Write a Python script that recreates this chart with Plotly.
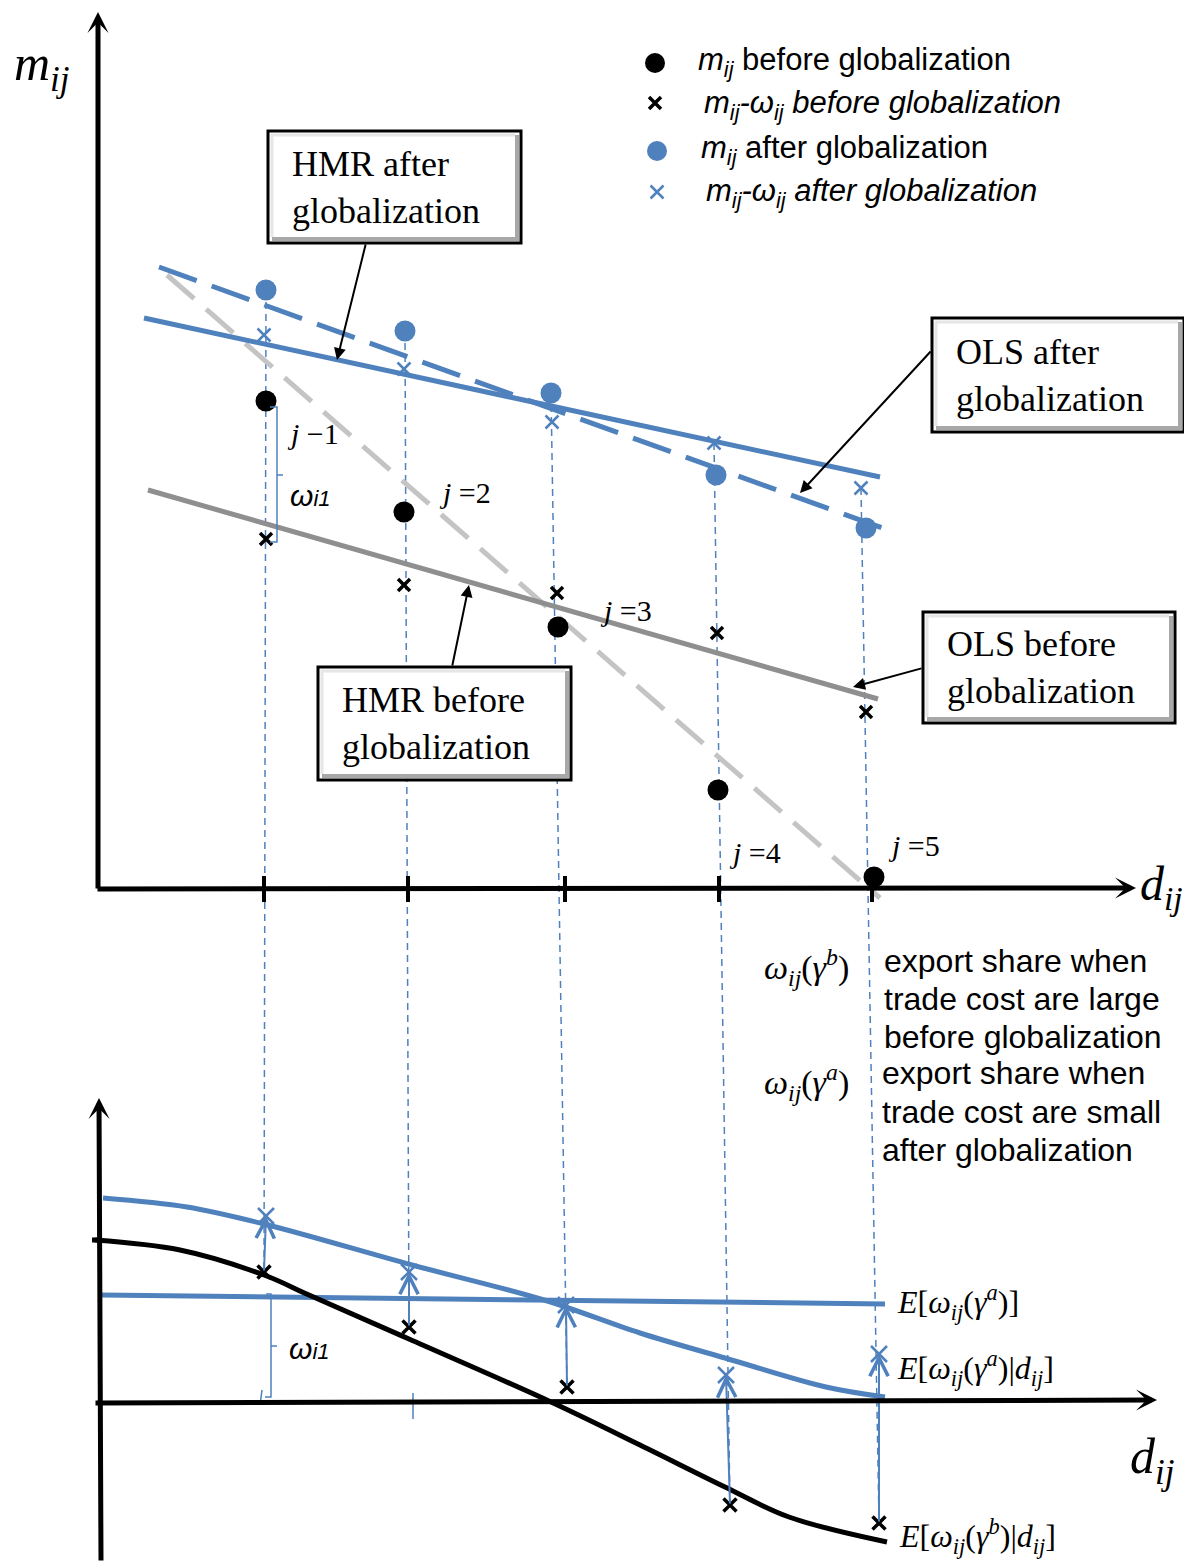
import plotly.graph_objects as go

BLUE = "#4f81bd"
GRAY = "#8f8f8f"
LIGHT_GRAY = "#c4c4c4"
SERIF = "Liberation Serif"
SANS = "Liberation Sans"

# ---- top panel: m_ij for importers j = 1..5 (screen units, y grows downward)
m_before_x = [266, 404, 558, 718, 874]
m_before_y = [401, 512, 627, 790, 877]
mw_before_x = [266, 404, 557, 717, 866]
mw_before_y = [539, 585, 593, 633, 712]
m_after_x = [266, 405, 551, 716, 866]
m_after_y = [290, 331, 393, 475, 528]
mw_after_x = [264, 404, 552, 714, 861]
mw_after_y = [335, 369, 422, 443, 488]

# fitted lines (end points)
hmr_after_x = [144, 880]
hmr_after_y = [318, 477]
ols_after_x = [159, 885]
ols_after_y = [267, 529]
before_solid_x = [148, 878]
before_solid_y = [490, 699]
before_dashed_x = [167, 880]
before_dashed_y = [275, 898]

d_ticks = [264, 408, 565, 719, 872]
j_labels = ["<i>j</i> −1", "<i>j</i> =2", "<i>j</i> =3", "<i>j</i> =4", "<i>j</i> =5"]

# ---- bottom panel: expected export shares
eb_x = [95, 180, 264, 309, 409, 551, 640, 725, 789, 887]
eb_y = [1240, 1250, 1275, 1295, 1339, 1402, 1445, 1487, 1517, 1542]
ea_cond_x = [103, 187, 264, 412, 544, 640, 725, 826, 885]
ea_cond_y = [1198, 1207, 1224, 1265, 1300, 1333, 1358, 1387, 1397]
ea_x = [101, 640, 885]
ea_y = [1295, 1301, 1304]
low_before_x = [264, 409, 567, 730, 879]
low_before_y = [1272, 1327, 1387, 1505, 1523]
low_after_x = [266, 409, 566, 726, 879]
low_after_y = [1216, 1272, 1305, 1375, 1354]

legend_labels = [
    "<i>m</i><sub><i>ij</i></sub> before globalization",
    "<i>m<sub>ij</sub>-ω<sub>ij</sub> before globalization</i>",
    "<i>m</i><sub><i>ij</i></sub> after globalization",
    "<i>m<sub>ij</sub>-ω<sub>ij</sub> after globalization</i>",
]

fig = go.Figure()


def line(x, y, color, width, dash=None, shape="linear"):
    fig.add_trace(go.Scatter(x=x, y=y, mode="lines", hoverinfo="skip",
                             line=dict(color=color, width=width, dash=dash, shape=shape)))


def markers(x, y, symbol, color, size, lw=0):
    fig.add_trace(go.Scatter(x=x, y=y, mode="markers", hoverinfo="skip",
                             marker=dict(symbol=symbol, color=color, size=size,
                                         line=dict(color=color, width=lw))))


def text(x, y, s, size, family=SANS, color="black", anchor="left"):
    fig.add_annotation(x=x, y=y, text=s, showarrow=False, xanchor=anchor, yanchor="middle",
                       align="left", font=dict(family=family, size=size, color=color))


def arrow(x0, y0, x1, y1, color="black", width=2, head=2, size=1.2):
    fig.add_annotation(x=x1, y=y1, ax=x0, ay=y0, xref="x", yref="y", axref="x", ayref="y",
                       text="", showarrow=True, arrowhead=head, arrowsize=size,
                       arrowwidth=width, arrowcolor=color, standoff=0, startstandoff=0)


def box(x0, y0, x1, y1, label, tx):
    fig.add_shape(type="rect", x0=x0, y0=y0, x1=x1, y1=y1, fillcolor="white",
                  line=dict(color="black", width=3))
    fig.add_shape(type="path", path=f"M{x0+4},{y1-4} L{x1-4},{y1-4} L{x1-4},{y0+4}",
                  line=dict(color="#a8a8a8", width=4))
    fig.add_shape(type="path", path=f"M{x0+4},{y1-6} L{x0+4},{y0+4} L{x1-6},{y0+4}",
                  line=dict(color="#e6e6e6", width=3))
    text(tx, (y0 + y1) / 2, label, 36, SERIF)


# dashed guide lines linking each j from the top panel to the bottom panel
for j in range(5):
    pts = [(m_after_x[j], m_after_y[j]), (mw_after_x[j], mw_after_y[j]),
           (m_before_x[j], m_before_y[j]), (mw_before_x[j], mw_before_y[j]),
           (low_after_x[j], low_after_y[j]), (low_before_x[j], low_before_y[j])]
    top = min(pts, key=lambda p: p[1])
    bot = max(pts, key=lambda p: p[1])
    line([top[0], bot[0]], [top[1], bot[1]], BLUE, 1.5, dash="7px,5px")

# top panel fitted lines
line(before_dashed_x, before_dashed_y, LIGHT_GRAY, 5, dash="36px,16px")
line(before_solid_x, before_solid_y, GRAY, 5)
line(ols_after_x, ols_after_y, BLUE, 5, dash="40px,16px")
line(hmr_after_x, hmr_after_y, BLUE, 5)

# top axis ticks
for t in d_ticks:
    line([t, t], [876, 902], "black", 4)

# bottom panel curves
line(ea_x, ea_y, BLUE, 5)
line(ea_cond_x, ea_cond_y, BLUE, 5, shape="spline")
line(eb_x, eb_y, "black", 5, shape="spline")

# top panel points
markers(m_before_x, m_before_y, "circle", "black", 21)
markers(mw_before_x, mw_before_y, "x-thin", "black", 12, 3.5)
markers(m_after_x, m_after_y, "circle", BLUE, 21)
markers(mw_after_x, mw_after_y, "x-thin", BLUE, 13, 2.5)

# bottom panel points and arrows
markers(low_before_x, low_before_y, "x-thin", "black", 13, 3.5)
markers(low_after_x, low_after_y, "x-thin", BLUE, 16, 2.5)
for j in range(5):
    arrow(low_before_x[j], low_before_y[j], low_after_x[j], low_after_y[j],
          color=BLUE, width=2, head=5, size=1.8)

# legend keys
markers([655], [63], "circle", "black", 20)
markers([655], [103], "x-thin", "black", 12, 3.5)
markers([657], [151], "circle", BLUE, 20)
markers([657], [192], "x-thin", BLUE, 13, 2.5)
for lbl, lx, ly in zip(legend_labels, [696, 702, 699, 704], [62, 105, 150, 193]):
    text(lx, ly, lbl, 31)

# axes
arrow(98, 890, 98, 12, width=5, head=3, size=0.7)
arrow(96, 889, 1136, 888, width=5, head=3, size=0.7)
arrow(101, 1562, 99, 1098, width=5, head=3, size=0.7)
arrow(94, 1403, 1157, 1400, width=5, head=3, size=0.7)
line([92, 101], [1240, 1240], "black", 5)
text(12, 67, "<i>m</i><sub><i>ij</i></sub>", 50, SERIF)
text(1138, 887, "<i>d</i><sub><i>ij</i></sub>", 48, SERIF)
text(1128, 1460, "<i>d</i><sub><i>ij</i></sub>", 50, SERIF)

# omega brackets
fig.add_shape(type="path", path="M270,407 L277,407 L277,542 L270,542 M277,475 L283,475",
              line=dict(color=BLUE, width=1.5))
fig.add_shape(type="path", path="M266,1294 L271,1294 L271,1397 L265,1397 M271,1346 L277,1346",
              line=dict(color=BLUE, width=1.5))
fig.add_shape(type="line", x0=262, y0=1390, x1=260, y1=1405, line=dict(color=BLUE, width=1.5))
fig.add_shape(type="line", x0=413, y0=1393, x1=413, y1=1419, line=dict(color=BLUE, width=1.5))
text(288, 495, "<i>ω<span style='font-size:22px'>i1</span></i>", 30)
text(287, 1348, "<i>ω<span style='font-size:22px'>i1</span></i>", 30)

# j labels
for lbl, lx, ly in zip(j_labels, [285, 437, 598, 727, 886], [433, 492, 610, 852, 845]):
    text(lx, ly, lbl, 30, SERIF)

# boxes and their pointers
box(268, 131, 521, 243, "HMR after<br>globalization", 290)
arrow(366, 243, 337, 360)
box(932, 318, 1184, 432, "OLS after<br>globalization", 954)
arrow(932, 350, 800, 493)
box(923, 612, 1175, 723, "OLS before<br>globalization", 945)
arrow(923, 668, 853, 687)
box(318, 667, 571, 780, "HMR before<br>globalization", 340)
arrow(452, 667, 469, 585)

# middle notes
text(762, 967, "<i>ω<sub>ij</sub></i>(<i>γ<sup>b</sup></i>)", 34, SERIF)
text(762, 1082, "<i>ω<sub>ij</sub></i>(<i>γ<sup>a</sup></i>)", 34, SERIF)
for s, lx, ly in zip(["export share when", "trade cost are large", "before globalization",
                      "export share when", "trade cost are small", "after globalization"],
                     [882, 882, 882, 880, 880, 880], [961, 999, 1037, 1073, 1112, 1150]):
    text(lx, ly, s, 32)

# bottom curve labels
text(895, 1302, "<i>E</i>[<i>ω<sub>ij</sub></i>(<i>γ<sup>a</sup></i>)]", 32, SERIF)
text(895, 1368, "<i>E</i>[<i>ω<sub>ij</sub></i>(<i>γ<sup>a</sup></i>)|<i>d<sub>ij</sub></i>]", 32, SERIF)
text(897, 1536, "<i>E</i>[<i>ω<sub>ij</sub></i>(<i>γ<sup>b</sup></i>)|<i>d<sub>ij</sub></i>]", 32, SERIF)

# the page body has an 8px margin, so the plot area starts at (8, 8)
fig.update_layout(
    width=1184, height=1558, margin=dict(l=0, r=0, t=0, b=0),
    paper_bgcolor="white", plot_bgcolor="white", showlegend=False,
    xaxis=dict(range=[8, 1192], visible=False, fixedrange=True),
    yaxis=dict(range=[1566, 8], visible=False, fixedrange=True),
)
fig.write_html("out.html", config={"displayModeBar": False})
